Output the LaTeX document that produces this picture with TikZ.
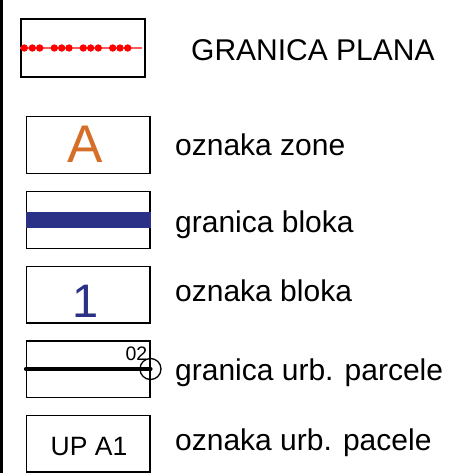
\documentclass[tikz,border=0pt]{standalone}
\usepackage{fontspec}
\setmainfont{Liberation Sans}
\definecolor{zoneorange}{RGB}{214,110,40}
\definecolor{blokblue}{RGB}{43,49,135}
\definecolor{dotred}{RGB}{255,0,0}
\definecolor{linered}{RGB}{255,90,90}
\tikzset{
  legbox/.style={draw=black, line width=1.6pt, rectangle, inner sep=0pt, minimum width=123.3pt, minimum height=56.8pt},
  label/.style={anchor=base west, inner sep=0pt, font=\fontsize{30}{36}\selectfont},
  reddot/.style={circle, fill=dotred, inner sep=0pt, minimum size=7.4pt},
}
\begin{document}
\begin{tikzpicture}[x=1pt,y=-1pt]
\useasboundingbox (0,0) rectangle (470,473);
% left frame line
\fill[black] (0,0) rectangle (2.6,473);
% boxes
\node[legbox, minimum width=124pt, minimum height=58pt] (b1) at (83,48) {};
\node[legbox] (b2) at (88.3,145) {};
\node[legbox] (b3) at (88.3,220) {};
\node[legbox] (b4) at (88.3,294.7) {};
\node[legbox] (b5) at (88.3,369.2) {};
\node[legbox] (b6) at (88.3,443.7) {};
% box 1: granica plana symbol
\coordinate (r1) at (142,48);
\draw[linered, line width=1.1pt] (b1.west) -- (r1);
\foreach \px [count=\i] in {24.3,32.3,39.7,54.3,61.7,69,83.3,90.7,98.3,112.7,120,127.7}
  \node[reddot] (d\i) at (\px,48) {};
% box 2: oznaka zone
\node[anchor=base, inner sep=0pt, text=zoneorange, font=\fontsize{53}{60}\selectfont] (tA) at (85,162.7) {A};
% box 3: granica bloka
\draw[blokblue, line width=16.6pt] (b3.west) -- (b3.east);
% box 4: oznaka bloka
\node[anchor=base, inner sep=0pt, text=blokblue, font=\fontsize{47}{54}\selectfont] (t1) at (86,317.3) {1};
% box 5: granica urb. parcele
\node[circle, draw=black, line width=1.3pt, minimum size=21pt, inner sep=0pt] (c5) at (150.5,369) {};
\coordinate (l5) at (26,369);
\draw[black, line width=4.2pt, line cap=round] (l5) -- (c5.center);
\node[anchor=base, inner sep=0pt, font=\fontsize{19.5}{22}\selectfont] (t02) at (136.5,360) {02};
% box 6: oznaka urb. parcele
\node[anchor=base, inner sep=0pt, font=\fontsize{26.5}{30}\selectfont] (tup) at (89,455) {UP A1};
% labels
\node[label] (l1) at (191,61) {GRANICA PLANA};
\node[label] (l2) at (175,156) {oznaka zone};
\node[label] (l3) at (175,232) {granica bloka};
\node[label] (l4) at (175,301.7) {oznaka bloka};
\node[label] (l5t) at (175,380.7) {granica urb. parcele};
\node[label] (l6) at (175,450.7) {oznaka urb. pacele};
\end{tikzpicture}
\end{document}
